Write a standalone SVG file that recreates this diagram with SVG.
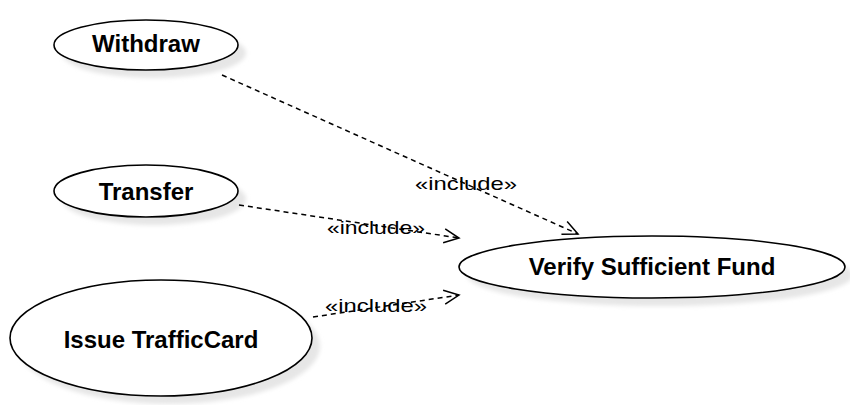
<svg xmlns="http://www.w3.org/2000/svg" width="850" height="405" viewBox="0 0 850 405">
<style>
.shadow{fill:#e6e6e6;stroke:none;filter:url(#blur)}
.uc{fill:#ffffff;stroke:#000000;stroke-width:1.6}
.name{font-family:"Liberation Sans",Arial,sans-serif;font-size:24px;font-weight:bold;fill:#000;text-anchor:middle}
.dep{fill:none;stroke:#000;stroke-width:1.5;stroke-dasharray:5,4;marker-end:url(#open)}
.lbl{font-family:"Liberation Sans",Arial,sans-serif;font-size:19px;fill:#000;text-anchor:middle}
</style>
<defs>
<filter id="blur" x="-20%" y="-20%" width="140%" height="140%"><feGaussianBlur stdDeviation="2"/></filter>
<marker id="open" markerUnits="userSpaceOnUse" markerWidth="20" markerHeight="20" refX="16" refY="10" orient="auto" viewBox="0 0 20 20">
<path d="M1,3 L16,10 L1,17" fill="none" stroke="#000" stroke-width="1.5" stroke-dasharray="none"/>
</marker>
</defs>
<g id="withdraw">
<ellipse class="shadow" cx="154" cy="53" rx="92" ry="25"/>
<ellipse class="uc" cx="146" cy="45" rx="92" ry="25"/>
<text class="name" x="146" y="52">Withdraw</text>
</g>
<g id="transfer">
<ellipse class="shadow" cx="154" cy="199" rx="92" ry="26"/>
<ellipse class="uc" cx="146" cy="191" rx="92" ry="26"/>
<text class="name" x="146" y="200">Transfer</text>
</g>
<g id="issue">
<ellipse class="shadow" cx="169" cy="346" rx="151" ry="58"/>
<ellipse class="uc" cx="161" cy="338" rx="151" ry="58"/>
<text class="name" x="161" y="348">Issue TrafficCard</text>
</g>
<g id="verify">
<ellipse class="shadow" cx="660" cy="275" rx="193" ry="31"/>
<ellipse class="uc" cx="652" cy="267" rx="193" ry="31"/>
<text class="name" x="652" y="275">Verify Sufficient Fund</text>
</g>
<g id="connectors">
<line class="dep" x1="222" y1="75" x2="578" y2="234"/>
<line class="dep" x1="239" y1="205" x2="459" y2="238"/>
<line class="dep" x1="313" y1="317" x2="459" y2="295"/>
<text class="lbl" x="466" y="190" textLength="102" lengthAdjust="spacingAndGlyphs">«include»</text>
<text class="lbl" x="376" y="234" textLength="98" lengthAdjust="spacingAndGlyphs">«include»</text>
<text class="lbl" x="376" y="312" textLength="102" lengthAdjust="spacingAndGlyphs">«include»</text>
</g>
</svg>
